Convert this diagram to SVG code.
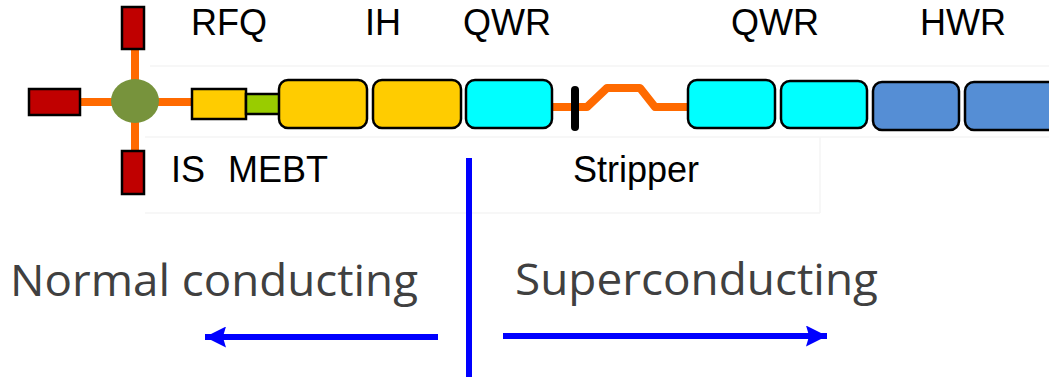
<svg xmlns="http://www.w3.org/2000/svg" width="1049" height="377" viewBox="0 0 1049 377">
  <defs>
    <style>
      .beam { stroke: #FF6A00; stroke-width: 8; fill: none; stroke-linejoin: round; }
      .src { fill: #C00000; stroke: #000; stroke-width: 2.5; }
      .cav { stroke: #000; stroke-width: 2.5; }
      .yel { fill: #FFCC00; }
      .cyan { fill: #00FFFF; }
      .hwr { fill: #558ED5; }
      .lbl { font-family: "Liberation Sans", Arial, sans-serif; font-size: 36px; fill: #000; }
      .big { font-family: "Open Sans", "Noto Sans", sans-serif; font-size: 44px; fill: #404040; }
      .div { stroke: #0000FF; stroke-width: 6; fill: none; }
      .faint { stroke: #F5F5F5; stroke-width: 1.5; fill: none; }
    </style>
    <marker id="blueHead" viewBox="0 0 10 10" refX="10" refY="5" markerWidth="3.5" markerHeight="3.5" markerUnits="strokeWidth" orient="auto">
      <path d="M0,0 L10,5 L0,10 L1.5,5 z" fill="#0000FF"/>
    </marker>
  </defs>

  <rect width="1049" height="377" fill="#FFFFFF"/>

  <!-- faint panel edges -->
  <g id="panel-edges">
    <line class="faint" x1="150" y1="66" x2="1049" y2="66"/>
    <line class="faint" x1="145" y1="137" x2="1049" y2="137"/>
    <line class="faint" x1="820" y1="137" x2="820" y2="213"/>
    <line class="faint" x1="145" y1="213" x2="820" y2="213"/>
  </g>

  <!-- beam lines -->
  <g id="connectors">
    <line class="beam" x1="135" y1="49" x2="135" y2="151"/>
    <line class="beam" x1="80" y1="102" x2="192" y2="102"/>
    <path class="beam" d="M552,107 L587,107 L607,88 L640,88 L655,107 L688,107"/>
  </g>

  <!-- ion sources -->
  <g id="source-top"><rect class="src" x="122" y="7" width="22" height="42"/></g>
  <g id="source-left"><rect class="src" x="29" y="89" width="51" height="26"/></g>
  <g id="source-bottom"><rect class="src" x="122" y="151" width="22" height="43"/></g>
  <g id="switch"><ellipse cx="135" cy="101" rx="24" ry="22" fill="#77933C"/></g>

  <!-- RFQ and MEBT -->
  <g id="rfq"><rect class="cav yel" x="192" y="89" width="54" height="30"/></g>
  <g id="mebt"><rect class="cav" x="246" y="94" width="34" height="20" fill="#99CC00"/></g>

  <!-- IH cavities -->
  <g id="ih-1"><rect class="cav yel" x="279" y="80" width="88" height="48" rx="9"/></g>
  <g id="ih-2"><rect class="cav yel" x="373" y="80" width="88" height="48" rx="9"/></g>

  <!-- QWR cavities -->
  <g id="qwr-1"><rect class="cav cyan" x="466" y="80" width="86" height="48" rx="9"/></g>
  <g id="qwr-2"><rect class="cav cyan" x="688" y="80" width="87" height="48" rx="9"/></g>
  <g id="qwr-3"><rect class="cav cyan" x="781" y="81" width="86" height="47" rx="9"/></g>

  <!-- HWR cavities -->
  <g id="hwr-1"><rect class="cav hwr" x="873" y="82" width="86" height="48" rx="9"/></g>
  <g id="hwr-2"><rect class="cav hwr" x="965" y="82" width="100" height="48" rx="9"/></g>

  <!-- stripper foil -->
  <g id="stripper"><line x1="575" y1="90" x2="575" y2="127" stroke="#000" stroke-width="8" stroke-linecap="round"/></g>

  <!-- element labels -->
  <g id="labels">
    <text class="lbl" x="191" y="35">RFQ</text>
    <text class="lbl" x="365" y="35">IH</text>
    <text class="lbl" x="463" y="35">QWR</text>
    <text class="lbl" x="731" y="35">QWR</text>
    <text class="lbl" x="920" y="35">HWR</text>
    <text class="lbl" x="171" y="182">IS</text>
    <text class="lbl" x="228" y="182">MEBT</text>
    <text class="lbl" x="573" y="182">Stripper</text>
  </g>

  <!-- NC / SC boundary -->
  <g id="boundary">
    <line class="div" x1="469" y1="158" x2="469" y2="377"/>
    <line class="div" x1="438" y1="337" x2="205" y2="337" marker-end="url(#blueHead)"/>
    <line class="div" x1="503" y1="336" x2="827" y2="336" marker-end="url(#blueHead)"/>
  </g>

  <g id="regions">
    <text class="big" x="10" y="296" textLength="408" lengthAdjust="spacingAndGlyphs">Normal conducting</text>
    <text class="big" x="515" y="295" textLength="363" lengthAdjust="spacingAndGlyphs">Superconducting</text>
  </g>
</svg>
